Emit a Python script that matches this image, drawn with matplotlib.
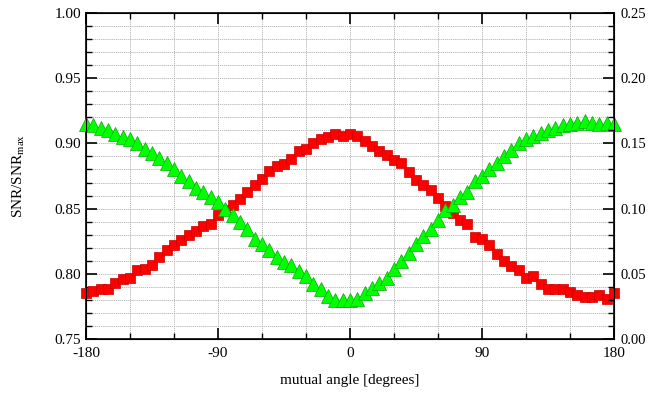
import numpy as np
import matplotlib
matplotlib.use("Agg")
import matplotlib.pyplot as plt
from matplotlib.ticker import MultipleLocator

plt.rcParams["font.family"] = "Liberation Serif"
plt.rcParams["mathtext.fontset"] = "custom"
plt.rcParams["mathtext.rm"] = "Liberation Serif"
plt.rcParams["axes.unicode_minus"] = False

angle = np.arange(-180, 181, 5)

snr_red = [
    0.785, 0.787, 0.788, 0.788, 0.793, 0.796, 0.797, 0.803, 0.804, 0.807,
    0.813, 0.818, 0.822, 0.826, 0.830, 0.833, 0.837, 0.838, 0.845, 0.849,
    0.853, 0.857, 0.863, 0.868, 0.873, 0.879, 0.883, 0.884, 0.888, 0.894,
    0.896, 0.900, 0.903, 0.905, 0.907, 0.906, 0.907, 0.906, 0.902, 0.898,
    0.894, 0.891, 0.887, 0.885, 0.878, 0.872, 0.868, 0.864, 0.858, 0.852,
    0.847, 0.841, 0.838, 0.828, 0.827, 0.822, 0.815, 0.810, 0.806, 0.803,
    0.797, 0.798, 0.792, 0.788, 0.788, 0.788, 0.786, 0.784, 0.782, 0.782,
    0.784, 0.781, 0.785,
]

snr_green = [
    0.915, 0.914, 0.912, 0.910, 0.907, 0.905, 0.903, 0.900, 0.896, 0.893,
    0.889, 0.885, 0.880, 0.875, 0.871, 0.866, 0.863, 0.859, 0.855, 0.850,
    0.845, 0.840, 0.834, 0.827, 0.823, 0.818, 0.813, 0.809, 0.807, 0.802,
    0.798, 0.792, 0.788, 0.783, 0.780, 0.780, 0.780, 0.781, 0.785, 0.789,
    0.793, 0.797, 0.804, 0.810, 0.816, 0.823, 0.829, 0.834, 0.841, 0.849,
    0.853, 0.859, 0.863, 0.871, 0.875, 0.880, 0.885, 0.890, 0.895, 0.900,
    0.903, 0.906, 0.908, 0.910, 0.912, 0.914, 0.915, 0.916, 0.917, 0.916,
    0.915, 0.916, 0.915,
]

fig = plt.figure(figsize=(6.5, 3.94), dpi=100)
ax = fig.add_axes([0.1323, 0.1396, 0.8123, 0.8274])

ax.plot(angle, snr_red, "s", color="#ff0000", markeredgecolor="#cc0000",
        markeredgewidth=0.5, markersize=7, clip_on=False, zorder=3)
ax.plot(angle, snr_green, "^", color="#00ff00", markeredgecolor="#00b000",
        markeredgewidth=0.5, markersize=9.5, clip_on=False, zorder=4)

ax.set_xlim(-180, 180)
ax.set_ylim(0.75, 1.00)
ax.xaxis.set_major_locator(MultipleLocator(90))
ax.xaxis.set_minor_locator(MultipleLocator(30))
ax.yaxis.set_major_locator(MultipleLocator(0.05))
ax.yaxis.set_minor_locator(MultipleLocator(0.01))
ax.yaxis.set_major_formatter(plt.FormatStrFormatter("%.2f"))
ax.grid(True, which="both", color="#b0b0b0", linestyle=(0, (1.5, 1)), linewidth=0.6)
ax.set_axisbelow(True)

ax.tick_params(which="both", direction="in", top=True, right=False, labelsize=11)
ax.tick_params(which="major", length=8, width=1.2)
ax.tick_params(which="minor", length=4, width=1.0)
ax.tick_params(axis="x", pad=6)
for s in ax.spines.values():
    s.set_linewidth(1.2)

ax2 = ax.twinx()
ax2.set_ylim(0.0, 0.25)
ax2.yaxis.set_major_locator(MultipleLocator(0.05))
ax2.yaxis.set_minor_locator(MultipleLocator(0.01))
ax2.yaxis.set_major_formatter(plt.FormatStrFormatter("%.2f"))
ax2.tick_params(which="both", direction="in", labelsize=10.5)
ax2.tick_params(which="major", length=8, width=1.2, pad=5)
ax2.tick_params(which="minor", length=4, width=1.0)

ax.set_xlabel("mutual angle [degrees]", fontsize=11, labelpad=10)
ax.set_ylabel(r"SNR/SNR$_{\rm max}$", fontsize=11, labelpad=20)

fig.savefig("out.png", dpi=100)
